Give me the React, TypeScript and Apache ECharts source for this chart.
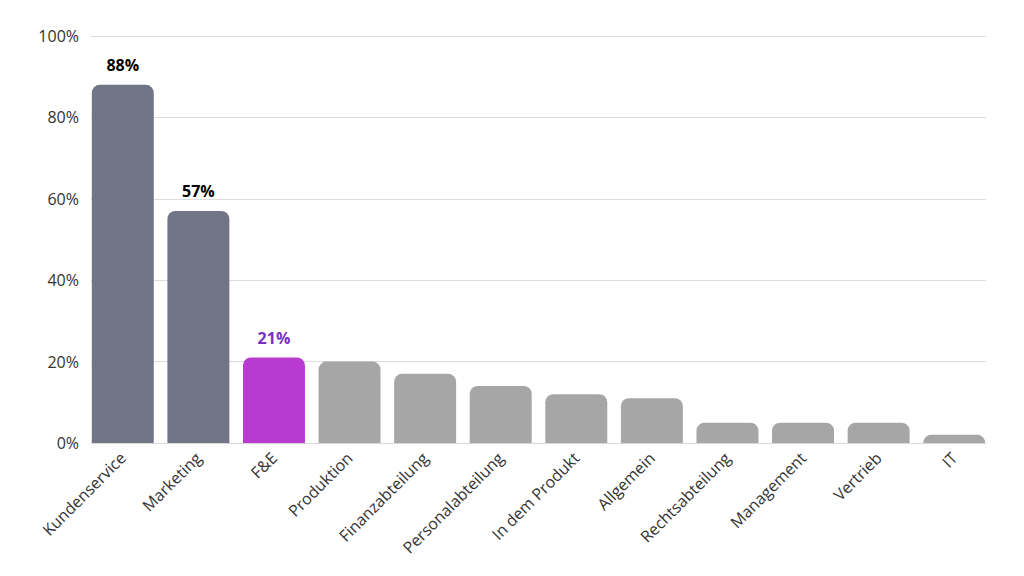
import React, { useEffect, useRef } from "react";
import * as echarts from "echarts";

const categories = [
  "Kundenservice",
  "Marketing",
  "F&E",
  "Produktion",
  "Finanzabteilung",
  "Personalabteilung",
  "In dem Produkt",
  "Allgemein",
  "Rechtsabteilung",
  "Management",
  "Vertrieb",
  "IT",
];
const values = [88, 57, 21, 20, 17, 14, 12, 11, 5, 5, 5, 2];
const yTicks = [0, 20, 40, 60, 80, 100];
const barColors = [
  "#717587", "#717587", "#b93ad0", "#a6a6a6", "#a6a6a6", "#a6a6a6",
  "#a6a6a6", "#a6a6a6", "#a6a6a6", "#a6a6a6", "#a6a6a6", "#a6a6a6",
];
const labelColors = ["#000000", "#000000", "#7b2fc0"];

export default function App() {
  const ref = useRef<HTMLDivElement>(null);
  useEffect(() => {
    if (!ref.current) return;
    const chart = echarts.init(ref.current, undefined, { renderer: "svg" });
    chart.setOption({
      animation: false,
      textStyle: { fontFamily: "Open Sans" },
      grid: [
        { left: 83, right: 30, top: 28, bottom: 125, containLabel: false },
        { left: 77, right: 24, top: 28, bottom: 125, containLabel: false },
      ],
      xAxis: [
        {
          gridIndex: 0,
          type: "category",
          data: categories,
          axisLine: { lineStyle: { color: "#d9d9d9" } },
          axisTick: { show: false },
          axisLabel: { show: false },
        },
        {
          gridIndex: 1,
          type: "category",
          data: categories,
          axisLine: { show: false },
          axisTick: { show: false },
          axisLabel: {
            rotate: 45,
            interval: 0,
            color: "#333",
            fontSize: 16,
            fontFamily: "Open Sans",
            margin: 12,
          },
        },
      ],
      yAxis: [
        {
          gridIndex: 0,
          type: "value",
          min: yTicks[0],
          max: yTicks[yTicks.length - 1],
          interval: 20,
          axisLabel: {
            formatter: "{value}%",
            color: "#333",
            fontSize: 16,
            fontFamily: "Open Sans",
            margin: 12,
          },
          splitLine: { lineStyle: { color: "#dcdcdc" } },
          axisLine: { show: false },
          axisTick: { show: false },
        },
        {
          gridIndex: 1,
          type: "value",
          min: yTicks[0],
          max: yTicks[yTicks.length - 1],
          interval: 20,
          axisLabel: { show: false },
          splitLine: { show: false },
          axisLine: { show: false },
          axisTick: { show: false },
        },
      ],
      series: [
        {
          type: "bar",
          xAxisIndex: 1,
          yAxisIndex: 1,
          barCategoryGap: "18%",
          data: values.map((v, i) => ({
            value: v,
            itemStyle: { color: barColors[i], borderRadius: [8, 8, 0, 0] },
            label: {
              show: i < 3,
              position: "top",
              distance: 12,
              formatter: "{c}%",
              color: labelColors[i] || "#000",
              fontWeight: "bold",
              fontSize: 16,
              fontFamily: "Open Sans",
            },
          })),
        },
      ],
    });
    return () => chart.dispose();
  }, []);
  return <div ref={ref} style={{ width: 1008, height: 560 }} />;
}
